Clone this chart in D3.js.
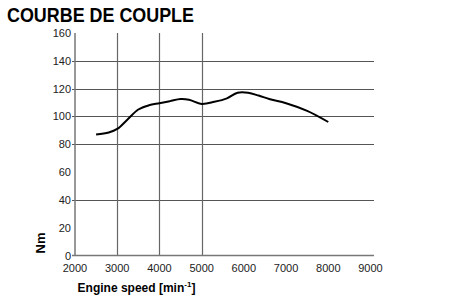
<!DOCTYPE html>
<html>
<head>
<meta charset="utf-8">
<script src="https://cdn.jsdelivr.net/npm/d3@7"></script>
<style>
  body { margin: 0; background: #fff; }
  svg { display: block; font-family: "Liberation Sans", Arial, sans-serif; }
</style>
</head>
<body>
<svg id="chart" width="450" height="300"></svg>
<script>
// Torque curve (Nm vs engine speed)
const rpm = [2500, 2800, 3000, 3250, 3500, 3750, 4000, 4250, 4500, 4700, 5000, 5300, 5600, 5850, 6100, 6350, 6600, 7000, 7500, 8000];
const torque = [87, 88.5, 91, 98, 105, 108, 109.5, 111, 112.5, 112, 109, 110.5, 113, 117, 117, 115, 112.5, 109.5, 104, 96];

const xTicks = [2000, 3000, 4000, 5000, 6000, 7000, 8000, 9000];
const yTicks = [0, 20, 40, 60, 80, 100, 120, 140, 160];
const xGrid = [3000, 4000, 5000];
const yGrid = [40, 80, 100, 120, 140];

const svg = d3.select('#chart');

const x = d3.scaleLinear().domain([2000, 9000]).range([75, 370.5]);
const y = d3.scaleLinear().domain([0, 160]).range([255.5, 33]);

// Title
svg.append('text')
    .attr('x', 7).attr('y', 22)
    .attr('font-size', 20).attr('font-weight', 'bold')
    .attr('textLength', 187).attr('lengthAdjust', 'spacingAndGlyphs')
    .attr('fill', '#000')
    .text('COURBE DE COUPLE');

// Grid
svg.selectAll('.hg').data(yGrid).enter().append('line')
    .attr('x1', 72).attr('x2', 374)
    .attr('y1', d => Math.round(y(d)) + 0.5).attr('y2', d => Math.round(y(d)) + 0.5)
    .attr('stroke', '#555').attr('stroke-width', 1);

svg.selectAll('.vg').data(xGrid).enter().append('line')
    .attr('x1', d => Math.round(x(d)) + 0.5).attr('x2', d => Math.round(x(d)) + 0.5)
    .attr('y1', y(160)).attr('y2', y(0))
    .attr('stroke', '#666').attr('stroke-width', 1.2);

// Axis lines
svg.append('line')
    .attr('x1', x(2000)).attr('x2', x(2000))
    .attr('y1', y(160)).attr('y2', y(0))
    .attr('stroke', '#777').attr('stroke-width', 1.5);
svg.append('line')
    .attr('x1', 72).attr('x2', 374)
    .attr('y1', y(0)).attr('y2', y(0))
    .attr('stroke', '#777').attr('stroke-width', 1.5);

// Tick labels
svg.selectAll('.yl').data(yTicks).enter().append('text')
    .attr('x', 71).attr('y', d => y(d) + 4)
    .attr('text-anchor', 'end')
    .attr('font-size', 11).attr('fill', '#222')
    .text(d => d);

svg.selectAll('.xl').data(xTicks).enter().append('text')
    .attr('x', d => x(d)).attr('y', 272)
    .attr('text-anchor', 'middle')
    .attr('font-size', 11).attr('fill', '#222')
    .text(d => d);

// Axis titles
const xt = svg.append('text')
    .attr('x', 136.5).attr('y', 292)
    .attr('text-anchor', 'middle')
    .attr('font-size', 12).attr('font-weight', 'bold');
xt.append('tspan').text('Engine speed [min');
xt.append('tspan').attr('font-size', 8).attr('dy', -5).text('-1');
xt.append('tspan').attr('dy', 5).text(']');

svg.append('text')
    .attr('transform', 'translate(45,243) rotate(-90)')
    .attr('text-anchor', 'middle')
    .attr('font-size', 13).attr('font-weight', 'bold')
    .text('Nm');

// Curve
const pts = rpm.map((r, i) => [r, torque[i]]);
const line = d3.line()
    .x(d => x(d[0])).y(d => y(d[1]))
    .curve(d3.curveCatmullRom);

svg.append('path').datum(pts)
    .attr('d', line)
    .attr('fill', 'none')
    .attr('stroke', '#000')
    .attr('stroke-width', 2);
</script>
</body>
</html>
